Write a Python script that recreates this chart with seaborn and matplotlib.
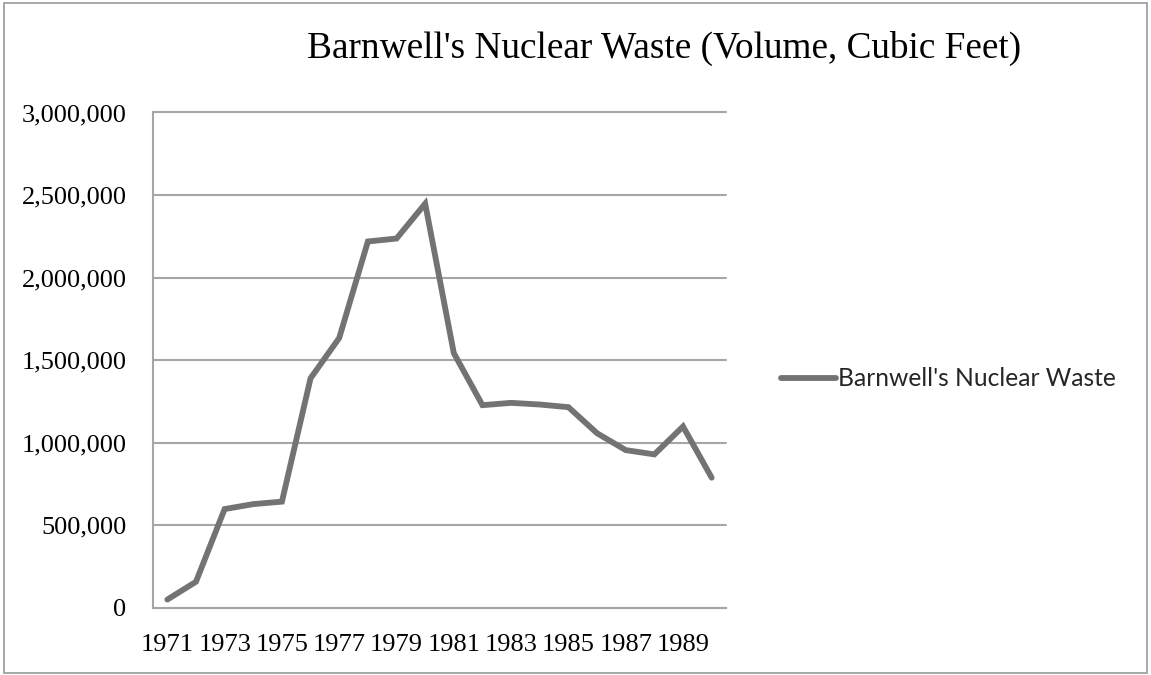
import matplotlib
matplotlib.use("Agg")
import matplotlib.pyplot as plt
import matplotlib.ticker as mticker
from matplotlib.patches import Rectangle
from matplotlib.lines import Line2D
import seaborn as sns
import pandas as pd

years = list(range(1971, 1991))
volume = [51000, 159000, 599000, 629000, 644000, 1391000, 1635000, 2219000, 2237000, 2448000,
          1543000, 1228000, 1242000, 1232000, 1216000, 1058000, 956000, 930000, 1099000, 789000]
series_name = "Barnwell's Nuclear Waste"
title = "Barnwell's Nuclear Waste (Volume, Cubic Feet)"
yticks = [0, 500000, 1000000, 1500000, 2000000, 2500000, 3000000]

sns.set_theme(style="white")
plt.rcParams['font.family'] = ['Liberation Serif', 'DejaVu Serif']

df = pd.DataFrame({"idx": range(len(years)), "year": years, "volume": volume})

fig = plt.figure(figsize=(11.51, 6.75), dpi=100)
ax = fig.add_axes([153/1151, 1 - 608/675, (726 - 153)/1151, (608 - 112.5)/675])

line_color = "#737373"
grid_color = "#a6a6a6"

sns.lineplot(data=df, x="idx", y="volume", ax=ax, color=line_color, linewidth=4.2,
             solid_capstyle="round", solid_joinstyle="miter", legend=False)

ax.set_xlim(-0.5, len(years) - 0.5)
ax.set_ylim(0, 3000000)
ax.set_yticks(yticks)
ax.yaxis.set_major_formatter(mticker.FuncFormatter(lambda v, p: f"{int(v):,}"))
ax.set_xticks([i - 0.5 for i in range(len(years) + 1)])
ax.set_xticklabels([])
ax.set_xticks(list(range(0, len(years), 2)), minor=True)
ax.set_xticklabels([str(y) for y in years[::2]], minor=True)
ax.tick_params(axis="x", which="major", length=7, width=1.5, color=grid_color, direction="out")
ax.tick_params(axis="x", which="minor", length=0, pad=19, labelsize=19)
ax.tick_params(axis="y", length=7, width=1.5, color=grid_color, direction="out", labelsize=19, pad=12)
ax.set_xlabel("")
ax.set_ylabel("")
ax.grid(axis="y", color=grid_color, linewidth=1.5)
ax.grid(axis="x", visible=False)
for gl in ax.get_ygridlines():
    gl.set_clip_on(False)
for s in ["top", "right"]:
    ax.spines[s].set_visible(False)
for s in ["left", "bottom"]:
    ax.spines[s].set_color(grid_color)
    ax.spines[s].set_linewidth(1.5)
for lbl in ax.get_xticklabels(minor=True) + ax.get_yticklabels():
    lbl.set_color("black")

fig.text(664/1151, 1 - 48/675, title, ha="center", va="center", fontsize=26.8, color="black")

# legend
leg_handle = [Line2D([0], [0], color=line_color, linewidth=4.2, solid_capstyle="round")]
fig.legend(leg_handle, [series_name], loc="center left", bbox_to_anchor=(759/1151, 1 - 379/675),
           frameon=False, handlelength=2.25, handletextpad=0.05,
           prop={"family": ["Lato", "DejaVu Sans"], "size": 17.7})

fig.patches.append(Rectangle((4/1151, 2/675), 1143/1151, 670/675, transform=fig.transFigure,
                             fill=False, edgecolor="#9a9a9a", linewidth=1.2))

fig.savefig("out.png", dpi=100, facecolor="white")
